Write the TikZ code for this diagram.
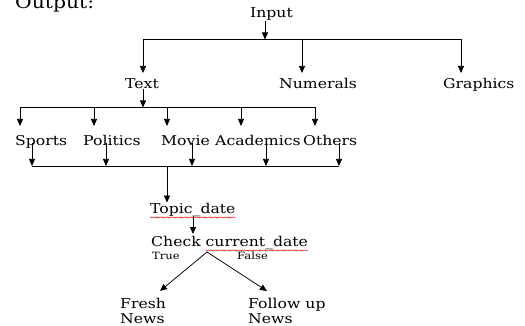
\documentclass[tikz,border=0pt]{standalone}
\usepackage{fontspec}
\setmainfont[FakeStretch=1.16]{DejaVu Serif}
\usetikzlibrary{arrows.meta,decorations.pathmorphing,calc}

\begin{document}
\begin{tikzpicture}[
  x=1pt, y=-1pt, font=\fontsize{13.5}{15}\selectfont,
  >={Triangle[length=7pt,width=6pt]},
  t/.style={inner sep=0pt, anchor=base west},
  tf/.style={t, font=\fontsize{10}{11}\selectfont},
  ar/.style={->, line width=0.75pt},
  ln/.style={line width=0.75pt},
  % red spell-check squiggle under the identifiers
  sp/.style={red!85!black, line width=0.4pt, decorate,
             decoration={snake, amplitude=0.6pt, segment length=2.4pt}}]
\clip (0,0) rectangle (525,326);

% ================= top level =================
\node[t, font=\fontsize{17.5}{18}\selectfont] (outp) at (15,9) {Output:};
\node[t] (inp) at (250,18) {Input};
\coordinate (j1) at (265,39.5);
\draw[ar] (j1 |- inp.south) -- (j1);

\node[t] (txt) at (125,89) {Text};
\node[t] (num) at (279,89) {Numerals};
\node[t] (gra) at (443,89) {Graphics};
\draw[ln] (143,39.5) -- (461,39.5);
\foreach \x/\nm in {143/txt, 302/num, 461/gra}
  \draw[ar] (\x,39.5) -- (\x,73);

% ================= topics =================
\coordinate (j2) at (143,107.5);
\draw[ar] (j2 |- txt.south) -- (j2);
\draw[ln] (20,107.5) -- (315,107.5);

\node[t] (spo) at (15,146) {Sports};
\node[t] (pol) at (83,146) {Politics};
\node[t] (mov) at (161,146) {Movie};
\node[t] (aca) at (215,146) {Academics};
\node[t] (oth) at (303,146) {Others};

\coordinate (j3) at (167,166);
\draw[ln] (32,166) -- (339,166);
\foreach \xa/\xb in {20/32, 94/106, 167/192, 241/266, 315/339} {
  \draw[ar] (\xa,107.5) -- (\xa,126);
  \draw[ar] (\xb,143) -- (\xb,166);
}

% ================= date check =================
\node[t] (tpc) at (150,213) {Topic\_date};
\draw[ar] (j3) -- (j3 |- tpc.north);
\draw[sp] ([yshift=-1pt]tpc.south west) -- ([yshift=-1pt]tpc.south east);

\node[t] (chk) at (151,246) {Check};
\node[t] (cur) at ([xshift=4.5pt]chk.base east) {current\_date};
\draw[sp] ([yshift=-1pt]cur.south west) -- ([yshift=-1pt]cur.south east);
\draw[ar] (193,216) -- (193,234);

\node[tf] (tru) at (152,259) {True};
\node[tf] (fal) at (237,259) {False};

\coordinate (apex) at (207,252);
\node[inner sep=0pt, anchor=north west, align=left] (fsh) at (120,298) {Fresh\\News};
\node[inner sep=0pt, anchor=north west, align=left] (fol) at (248,298) {Follow up\\News};
\draw[ar] (apex) -- (160,291);
\draw[ar] (apex) -- (267,291);
\end{tikzpicture}
\end{document}
